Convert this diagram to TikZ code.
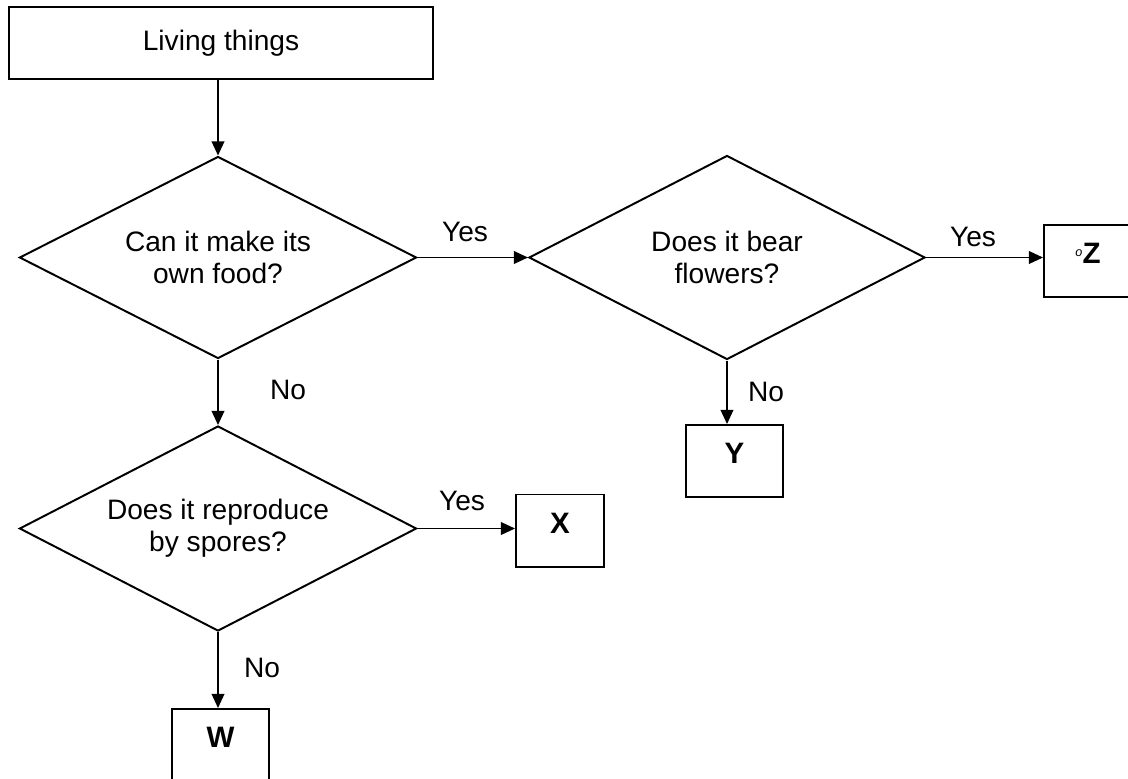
\documentclass[tikz,border=0pt]{standalone}
\usepackage{fontspec}
\setmainfont{Liberation Sans}
\usetikzlibrary{shapes.geometric,arrows.meta}

\tikzset{
  startbox/.style={draw, line width=1.4pt, minimum width=10.6cm, minimum height=1.8cm,
    font=\fontsize{20}{24}\selectfont},
  decision/.style={diamond, draw, line width=1.4pt, aspect=2, inner sep=0pt, align=center,
    font=\fontsize{20}{23}\selectfont},
  leaf/.style={draw, line width=1.4pt, minimum height=1.8cm, text height=14pt, text depth=10pt,
    font=\fontsize{21}{24}\selectfont\bfseries},
  answer/.style={font=\fontsize{20}{24}\selectfont},
  flow/.style={-{Triangle[length=10pt,width=9pt]}, line width=1.1pt}
}

\begin{document}
\begin{tikzpicture}[x=0.025cm,y=-0.025cm]
\useasboundingbox (0,0) rectangle (1128,778);
\node[startbox] (living) at (221,43) {Living things};
\node[decision, minimum width=9.925cm, minimum height=5.05cm] (food) at (218,257.5) {Can it make its\\own food?};
\node[decision, minimum width=9.9cm, minimum height=5.1cm] (flowers) at (727,257.5) {Does it bear\\flowers?};
\node[decision, minimum width=9.925cm, minimum height=5.125cm] (spores) at (218,528.5) {Does it reproduce\\by spores?};
\node[leaf, minimum width=2.2cm] (z) at (1088,261) {\raisebox{0.45ex}{\fontsize{9}{9}\selectfont\mdseries\itshape o}Z};
\node[leaf, minimum width=2.425cm] (y) at (734.5,461) {Y};
\node[leaf, minimum width=2.2cm] (x) at (560,530.5) {X};
\node[leaf, minimum width=2.425cm] (w) at (220.5,745) {W};
% connectors
\draw[flow] (food.north |- living.south) -- (food.north);
\draw[flow] (food.east) -- (flowers.west);
\draw[flow] (flowers.east) -- (flowers.east -| z.west);
\draw[flow] (flowers.south) -- (flowers.south |- y.north);
\draw[flow] (food.south) -- (spores.north);
\draw[flow] (spores.east) -- (spores.east -| x.west);
\draw[flow] (spores.south) -- (spores.south |- w.north);
% answers
\node[answer] (yesfood) at (465,232) {Yes};
\node[answer] (yesflowers) at (973,237) {Yes};
\node[answer] (yesspores) at (462,501) {Yes};
\node[answer] (nofood) at (288,390) {No};
\node[answer] (noflowers) at (766,392) {No};
\node[answer] (nospores) at (262,668) {No};
\end{tikzpicture}
\end{document}
